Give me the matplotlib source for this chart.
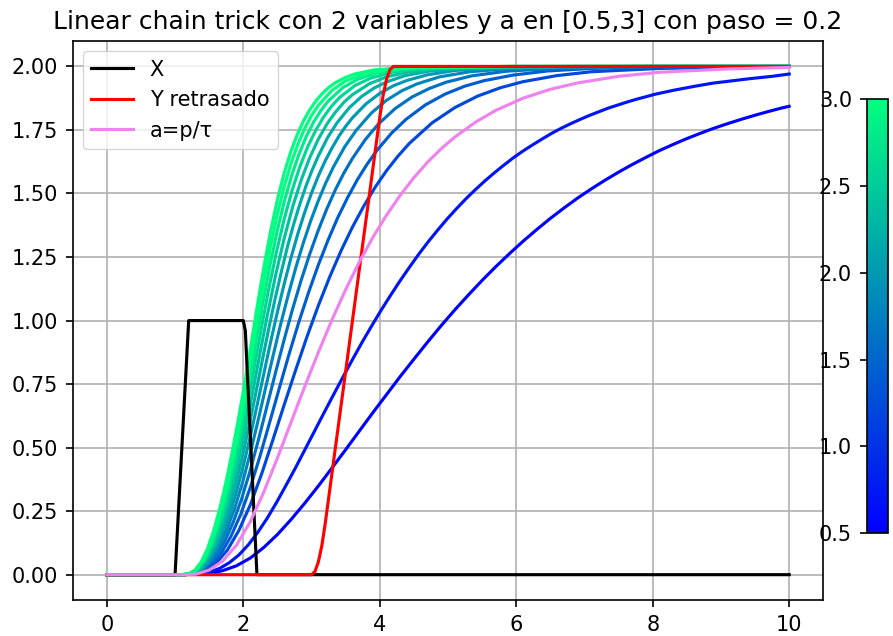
import matplotlib
matplotlib.use("Agg")
import matplotlib.pyplot as plt
from matplotlib.colors import Normalize
from matplotlib.cm import ScalarMappable

S = 1.5
plt.rcParams.update({
    "font.size": 10 * S,
    "axes.titlesize": 12 * S,
    "lines.linewidth": 1.5 * S,
    "axes.linewidth": 0.8 * S,
    "grid.linewidth": 0.8 * S,
    "xtick.major.size": 3.5 * S, "ytick.major.size": 3.5 * S,
    "xtick.major.width": 0.8 * S, "ytick.major.width": 0.8 * S,
    "xtick.major.pad": 3.5 * S, "ytick.major.pad": 3.5 * S,
})

# ---------------- data ----------------
title = "Linear chain trick con 2 variables y a en [0.5,3] con paso = 0.2"

t_X = [0, 1.0, 1.2, 2.0, 2.03, 2.2, 10]
y_X = [0, 0, 1.0, 1.0, 0.96, 0, 0]

t_Yr = [0, 3.0, 3.05, 3.1, 3.15, 3.2, 4.0, 4.05, 4.1, 4.15, 4.2, 10]
y_Yr = [0, 0, 0.0125, 0.05, 0.1125, 0.2, 1.8, 1.8875, 1.95, 1.9875, 2.0, 2.0]

t_pink = [0, 1.1, 1.3, 1.5, 1.7, 1.9, 2.1, 2.3, 2.5, 2.7, 2.9, 3.1, 3.3, 3.5, 3.7, 3.9,
          4.1, 4.3, 4.5, 4.7, 4.9, 5.1, 5.4, 5.7, 6.1, 6.5, 6.9, 7.5, 8.1, 9.1, 10]
y_pink = [0, 0, 0.002, 0.018, 0.054, 0.116, 0.207, 0.325, 0.459, 0.600, 0.740, 0.875,
          1.003, 1.122, 1.230, 1.328, 1.415, 1.493, 1.562, 1.623, 1.676, 1.722, 1.780,
          1.827, 1.875, 1.910, 1.935, 1.961, 1.977, 1.990, 1.996]

a_values = [0.5, 0.7, 1.2, 1.4, 1.6, 1.8, 2.0, 2.2, 2.4, 2.6, 2.8, 3.0, 3.2]

t_a05 = [0, 1.1, 1.5, 1.7, 1.9, 2.1, 2.3, 2.5, 2.7, 2.9, 3.1, 3.3, 3.5, 3.7, 3.9, 4.1,
         4.3, 4.5, 4.7, 4.9, 5.1, 5.3, 5.5, 5.7, 5.9, 6.1, 6.3, 6.5, 6.7, 6.9, 7.1, 7.3,
         7.5, 7.7, 7.9, 8.1, 8.3, 8.5, 8.7, 8.9, 9.1, 9.3, 9.5, 9.7, 9.9, 10]
y_a05 = [0, 0, 0.005, 0.016, 0.035, 0.065, 0.107, 0.158, 0.217, 0.281, 0.349, 0.420,
         0.492, 0.565, 0.638, 0.709, 0.780, 0.848, 0.915, 0.980, 1.042, 1.101, 1.158,
         1.212, 1.263, 1.312, 1.358, 1.402, 1.443, 1.482, 1.518, 1.552, 1.584, 1.614,
         1.642, 1.669, 1.693, 1.716, 1.737, 1.757, 1.775, 1.792, 1.808, 1.823, 1.837,
         1.843]

t_a07 = [0, 1.1, 1.378, 1.517, 1.655, 1.794, 1.933, 2.072, 2.211, 2.350, 2.489, 2.627,
         2.766, 2.905, 3.044, 3.183, 3.322, 3.461, 3.599, 3.738, 3.877, 4.016, 4.155,
         4.294, 4.433, 4.571, 4.710, 4.849, 4.988, 5.127, 5.266, 5.405, 5.543, 5.682,
         5.821, 5.960, 6.099, 6.238, 6.377, 6.515, 6.654, 6.793, 6.932, 7.071, 7.349,
         7.626, 7.765, 8.043, 8.321, 8.598, 8.876, 9.431, 9.751, 10]
y_a07 = [0, 0, 0.004, 0.011, 0.025, 0.047, 0.077, 0.117, 0.166, 0.222, 0.285, 0.352,
         0.421, 0.493, 0.565, 0.637, 0.708, 0.778, 0.846, 0.913, 0.977, 1.039, 1.098,
         1.155, 1.209, 1.261, 1.310, 1.356, 1.400, 1.441, 1.480, 1.516, 1.550, 1.582,
         1.612, 1.641, 1.667, 1.691, 1.714, 1.736, 1.756, 1.774, 1.791, 1.807, 1.836,
         1.860, 1.871, 1.891, 1.907, 1.921, 1.934, 1.952, 1.961, 1.970]

t_a12 = [0, 1.1, 1.267, 1.433, 1.6, 1.767, 1.933, 2.1, 2.267, 2.433, 2.6, 2.767, 2.933,
         3.1, 3.267, 3.433, 3.6, 3.767, 3.933, 4.1, 4.267, 4.433, 4.767, 5.1, 5.433,
         5.767, 6.1, 6.6, 7.1, 8.1, 9.1, 10]
y_a12 = [0, 0, 0.002, 0.015, 0.045, 0.097, 0.173, 0.273, 0.395, 0.530, 0.669, 0.805,
         0.936, 1.059, 1.172, 1.275, 1.368, 1.451, 1.525, 1.590, 1.647, 1.697, 1.778,
         1.838, 1.883, 1.916, 1.940, 1.964, 1.979, 1.992, 1.997, 1.999]

t_a14 = [0, 1.1, 1.243, 1.386, 1.529, 1.671, 1.814, 1.957, 2.1, 2.243, 2.386, 2.529,
         2.671, 2.814, 2.957, 3.1, 3.243, 3.386, 3.529, 3.671, 3.814, 3.957, 4.171,
         4.386, 4.671, 4.957, 5.243, 5.529, 5.957, 6.457, 7.1, 8.1, 10]
y_a14 = [0, 0, 0.002, 0.013, 0.038, 0.083, 0.148, 0.234, 0.341, 0.465, 0.599, 0.735,
         0.868, 0.994, 1.111, 1.219, 1.317, 1.406, 1.484, 1.554, 1.615, 1.669, 1.737,
         1.792, 1.849, 1.891, 1.922, 1.944, 1.966, 1.982, 1.992, 1.998, 2.0]

t_a16 = [0, 1.1, 1.225, 1.35, 1.475, 1.6, 1.725, 1.85, 1.975, 2.1, 2.225, 2.35, 2.475,
         2.6, 2.725, 2.85, 2.975, 3.1, 3.225, 3.35, 3.475, 3.6, 3.788, 3.975, 4.225,
         4.475, 4.725, 4.975, 5.35, 5.85, 6.6, 8.1, 10]
y_a16 = [0, 0, 0.002, 0.011, 0.034, 0.073, 0.130, 0.205, 0.298, 0.409, 0.534, 0.666,
         0.798, 0.926, 1.048, 1.160, 1.263, 1.356, 1.440, 1.515, 1.581, 1.638, 1.712,
         1.772, 1.834, 1.880, 1.913, 1.938, 1.963, 1.981, 1.993, 1.999, 2.0]

t_a18 = [0, 1.1, 1.211, 1.322, 1.433, 1.544, 1.656, 1.767, 1.878, 1.989, 2.1, 2.211,
         2.322, 2.433, 2.544, 2.656, 2.767, 2.878, 2.989, 3.1, 3.211, 3.322, 3.489,
         3.656, 3.878, 4.1, 4.322, 4.544, 4.878, 5.322, 5.878, 6.656, 8.0, 10]
y_a18 = [0, 0, 0.001, 0.010, 0.030, 0.065, 0.115, 0.182, 0.265, 0.363, 0.476, 0.600,
         0.730, 0.858, 0.982, 1.098, 1.206, 1.304, 1.393, 1.472, 1.543, 1.605, 1.685,
         1.749, 1.817, 1.867, 1.904, 1.931, 1.959, 1.979, 1.991, 1.998, 2.0, 2.0]

t_a20 = [0, 1.1, 1.2, 1.3, 1.4, 1.5, 1.6, 1.7, 1.8, 1.9, 2.0, 2.1, 2.2, 2.3, 2.4, 2.5,
         2.6, 2.7, 2.8, 2.9, 3.0, 3.1, 3.2, 3.3, 3.4, 3.5, 3.6, 3.8, 4.0, 4.2, 4.4, 4.7,
         5.1, 5.6, 6.3, 8.0, 10]
y_a20 = [0, 0, 0.001, 0.009, 0.027, 0.058, 0.104, 0.164, 0.238, 0.327, 0.428, 0.541,
         0.664, 0.790, 0.915, 1.034, 1.145, 1.248, 1.342, 1.426, 1.502, 1.569, 1.628,
         1.679, 1.725, 1.764, 1.798, 1.853, 1.894, 1.924, 1.945, 1.967, 1.984, 1.993,
         1.998, 2.0, 2.0]

t_a22 = [0, 1.1, 1.191, 1.282, 1.373, 1.464, 1.555, 1.645, 1.736, 1.827, 1.918, 2.009,
         2.1, 2.191, 2.282, 2.373, 2.464, 2.555, 2.645, 2.736, 2.827, 2.918, 3.009, 3.1,
         3.236, 3.373, 3.555, 3.736, 3.918, 4.1, 4.373, 4.736, 5.191, 5.827, 8.0, 10]
y_a22 = [0, 0, 0.001, 0.008, 0.025, 0.053, 0.094, 0.149, 0.217, 0.297, 0.389, 0.492,
         0.605, 0.725, 0.848, 0.968, 1.083, 1.189, 1.288, 1.377, 1.457, 1.529, 1.592,
         1.648, 1.720, 1.778, 1.838, 1.882, 1.915, 1.939, 1.964, 1.982, 1.992, 1.998,
         2.0, 2.0]

t_a24 = [0, 1.1, 1.225, 1.35, 1.475, 1.6, 1.725, 1.85, 1.975, 2.1, 2.225, 2.35, 2.475,
         2.6, 2.725, 2.85, 2.975, 3.1, 3.225, 3.35, 3.475, 3.6, 3.85, 4.1, 4.433, 4.85,
         5.475, 7.0, 10]
y_a24 = [0, 0, 0.003, 0.022, 0.066, 0.137, 0.234, 0.357, 0.502, 0.666, 0.843, 1.018,
         1.180, 1.324, 1.449, 1.554, 1.642, 1.714, 1.773, 1.820, 1.859, 1.889, 1.932,
         1.959, 1.979, 1.991, 1.998, 2.0, 2.0]

t_a26 = [0, 1.1, 1.215, 1.331, 1.446, 1.562, 1.677, 1.792, 1.908, 2.023, 2.138, 2.254,
         2.369, 2.485, 2.6, 2.715, 2.831, 2.946, 3.062, 3.177, 3.292, 3.408, 3.638,
         3.869, 4.177, 4.562, 5.1, 7.0, 10]
y_a26 = [0, 0, 0.003, 0.021, 0.061, 0.126, 0.216, 0.329, 0.463, 0.615, 0.781, 0.954,
         1.119, 1.269, 1.400, 1.512, 1.607, 1.685, 1.749, 1.801, 1.843, 1.877, 1.925,
         1.954, 1.977, 1.990, 1.997, 2.0, 2.0]

t_a28 = [0, 1.1, 1.207, 1.314, 1.421, 1.529, 1.636, 1.743, 1.85, 1.957, 2.064, 2.171,
         2.279, 2.386, 2.493, 2.6, 2.707, 2.814, 2.921, 3.029, 3.136, 3.243, 3.457,
         3.671, 3.957, 4.314, 4.814, 6.0, 10]
y_a28 = [0, 0, 0.003, 0.019, 0.057, 0.117, 0.201, 0.306, 0.430, 0.571, 0.726, 0.891,
         1.057, 1.211, 1.348, 1.468, 1.569, 1.653, 1.723, 1.780, 1.826, 1.863, 1.916,
         1.949, 1.974, 1.989, 1.997, 2.0, 2.0]

t_a30 = [0, 1.1, 1.2, 1.3, 1.4, 1.5, 1.6, 1.7, 1.8, 1.9, 2.0, 2.1, 2.2, 2.3, 2.4, 2.5,
         2.6, 2.7, 2.8, 2.9, 3.0, 3.1, 3.3, 3.5, 3.8, 4.1, 4.6, 6.0, 10]
y_a30 = [0, 0, 0.003, 0.018, 0.053, 0.109, 0.187, 0.285, 0.401, 0.533, 0.677, 0.833,
         0.994, 1.151, 1.294, 1.419, 1.528, 1.619, 1.694, 1.756, 1.807, 1.847, 1.906,
         1.943, 1.973, 1.988, 1.997, 2.0, 2.0]

t_a32 = [0, 1.1, 1.194, 1.288, 1.381, 1.475, 1.569, 1.663, 1.756, 1.85, 1.944, 2.038,
         2.131, 2.225, 2.319, 2.413, 2.506, 2.6, 2.694, 2.788, 2.881, 2.975, 3.069,
         3.163, 3.256, 3.35, 3.491, 3.631, 3.913, 4.381, 6.0, 10]
y_a32 = [0, 0, 0.002, 0.017, 0.049, 0.102, 0.176, 0.268, 0.376, 0.500, 0.635, 0.781,
         0.935, 1.090, 1.237, 1.368, 1.483, 1.581, 1.663, 1.730, 1.785, 1.830, 1.866,
         1.895, 1.918, 1.936, 1.956, 1.970, 1.986, 1.996, 2.0, 2.0]

curves_t = [t_a05, t_a07, t_a12, t_a14, t_a16, t_a18, t_a20, t_a22, t_a24, t_a26,
            t_a28, t_a30, t_a32]
curves_y = [y_a05, y_a07, y_a12, y_a14, y_a16, y_a18, y_a20, y_a22, y_a24, y_a26,
            y_a28, y_a30, y_a32]

cbar_min, cbar_max = 0.5, 3.0

# ---------------- figure ----------------
W, H = 893, 636
fig = plt.figure(figsize=(W / 100, H / 100), dpi=100)
ax = fig.add_axes([72.7 / W, 1 - 600.1 / H, (823.3 - 72.7) / W, (600.1 - 41.0) / H])

norm = Normalize(vmin=cbar_min, vmax=cbar_max)
cmap = plt.get_cmap("winter")

for a, tt, yy in zip(a_values, curves_t, curves_y):
    ax.plot(tt, yy, color=cmap(norm(a)))

ax.plot(t_X, y_X, color="black", label="X")
ax.plot(t_Yr, y_Yr, color="red", label="Y retrasado")
ax.plot(t_pink, y_pink, color="violet", label="a=p/\u03c4")

ax.set_xlim(-0.5, 10.5)
ax.set_ylim(-0.1, 2.1)
ax.set_xticks([0, 2, 4, 6, 8, 10])
ax.set_yticks([0, 0.25, 0.5, 0.75, 1.0, 1.25, 1.5, 1.75, 2.0])
ax.set_yticklabels(["0.00", "0.25", "0.50", "0.75", "1.00", "1.25", "1.50", "1.75", "2.00"])
ax.grid(True)
ax.set_title(title, pad=6 * S)
ax.legend(loc="upper left")

cax = fig.add_axes([866.7 / W, 1 - 533.0 / H, 21.6 / W, (533.0 - 99.3) / H])
sm = ScalarMappable(norm=norm, cmap=cmap)
cb = fig.colorbar(sm, cax=cax)
cb.outline.set_linewidth(0.8 * S)
cb.ax.yaxis.set_ticks_position("left")
cb.ax.yaxis.set_label_position("left")
cb.set_ticks([0.5, 1.0, 1.5, 2.0, 2.5, 3.0])

fig.savefig("out.png", dpi=100)
